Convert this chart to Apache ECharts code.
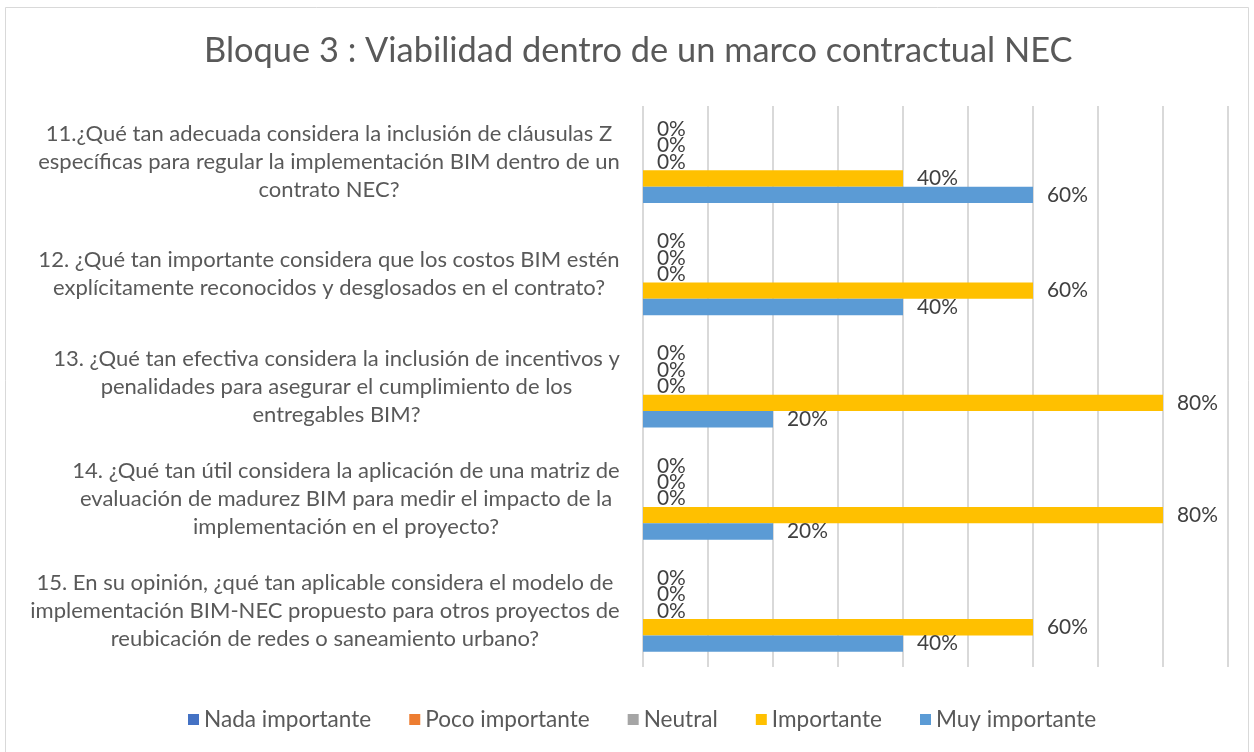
<!DOCTYPE html>
<html>
<head>
<meta charset="utf-8">
<script src="https://cdn.jsdelivr.net/npm/echarts@6/dist/echarts.min.js"></script>
<style>html,body{margin:0;padding:0;background:#fff}#c{width:1254px;height:752px}</style>
</head>
<body>
<div id="c"></div>
<script>
const categories = [
  "11.¿Qué tan adecuada considera la inclusión de cláusulas Z\nespecíficas para regular la implementación BIM dentro de un\ncontrato NEC?",
  "12. ¿Qué tan importante considera que los costos BIM estén\nexplícitamente reconocidos y desglosados en el contrato?",
  "13. ¿Qué tan efectiva considera la inclusión de incentivos y\npenalidades para asegurar el cumplimiento de los\nentregables BIM?",
  "14. ¿Qué tan útil considera la aplicación de una matriz de\nevaluación de madurez BIM para medir el impacto de la\nimplementación en el proyecto?",
  "15. En su opinión, ¿qué tan aplicable considera el modelo de\nimplementación BIM-NEC propuesto para otros proyectos de\nreubicación de redes o saneamiento urbano?"
];
const seriesNames = ["Nada importante", "Poco importante", "Neutral", "Importante", "Muy importante"];
const nadaImportante = [0, 0, 0, 0, 0];
const pocoImportante = [0, 0, 0, 0, 0];
const neutral = [0, 0, 0, 0, 0];
const importante = [0.4, 0.6, 0.8, 0.8, 0.6];
const muyImportante = [0.6, 0.4, 0.2, 0.2, 0.4];
const xTicks = [0, 0.1, 0.2, 0.3, 0.4, 0.5, 0.6, 0.7, 0.8, 0.9];
const titleText = 'Bloque 3 : Viabilidad dentro de un marco contractual NEC';

const colors = ["#4472C4", "#ED7D31", "#A5A5A5", "#FFC000", "#5B9BD5"];
const allData = [nadaImportante, pocoImportante, neutral, importante, muyImportante];
const FAM = "Lato";
const FONT = "Lato, 'Open Sans', sans-serif";

// size fitting using text measurement
const ctx = document.createElement('canvas').getContext('2d');
function measure(text, px) { ctx.font = px + 'px ' + FAM; return ctx.measureText(text).width; }
function fit(text, target) { return Math.round(20 * target / measure(text, 20) * 10) / 10; }
const catFont = Math.min(22, fit("específicas para regular la implementación BIM dentro de un", 593));
const titleFont = fit(titleText, 868);
const legendFont = fit("Nada importante", 167);
const labelFont = fit("60%", 41);
const titleLeft = Math.round(633.5 - measure(titleText, titleFont) / 2);

const rich = {};
categories.forEach((c, i) => {
  const w = Math.max(...c.split('\n').map(l => measure(l, catFont)));
  rich['r' + i] = { width: Math.ceil(w), align: 'center', fontFamily: FONT, fontSize: catFont, lineHeight: 28, color: '#595959' };
});

const chart = echarts.init(document.getElementById('c'));
chart.setOption({
  animation: false,
  backgroundColor: '#fff',
  color: colors,
  title: {
    text: titleText,
    left: titleLeft, top: 29,
    textStyle: { fontFamily: FONT, fontSize: titleFont, fontWeight: 'normal', color: '#595959' }
  },
  graphic: [{
    type: 'rect', shape: { x: 5.5, y: 7.5, width: 1243, height: 750 },
    style: { fill: 'none', stroke: '#d9d9d9', lineWidth: 1 }, silent: true, z: -1
  }],
  legend: {
    bottom: 16, left: 183, icon: 'rect', itemWidth: 11, itemHeight: 11, itemGap: 38,
    textStyle: { fontFamily: FONT, fontSize: legendFont, color: '#595959' },
    data: seriesNames
  },
  grid: { left: 643, right: 26, top: 106, bottom: 85, containLabel: false },
  xAxis: {
    type: 'value', min: xTicks[0], max: xTicks[xTicks.length - 1], interval: 0.1,
    axisLabel: { show: false }, axisLine: { show: false }, axisTick: { show: false },
    splitLine: { show: true, lineStyle: { color: '#d9d9d9', width: 2 } }
  },
  yAxis: {
    type: 'category', data: categories, inverse: true,
    axisLine: { show: false }, axisTick: { show: false },
    axisLabel: {
      interval: 0, margin: 23, align: 'right', fontFamily: FONT, fontSize: catFont, color: '#595959', lineHeight: 28,
      formatter: (v, i) => v.split('\n').map(l => '{r' + i + '|' + l + '}').join('\n'),
      rich: rich
    }
  },
  series: seriesNames.map((name, i) => ({
    name: name, type: 'bar', data: allData[i],
    barGap: '0%', barCategoryGap: '27%',
    itemStyle: { color: colors[i] },
    label: {
      show: true, position: 'right', distance: 14,
      fontFamily: FONT, fontSize: labelFont, color: '#404040',
      formatter: p => Math.round(p.value * 100) + '%'
    }
  }))
});
</script>
</body>
</html>
